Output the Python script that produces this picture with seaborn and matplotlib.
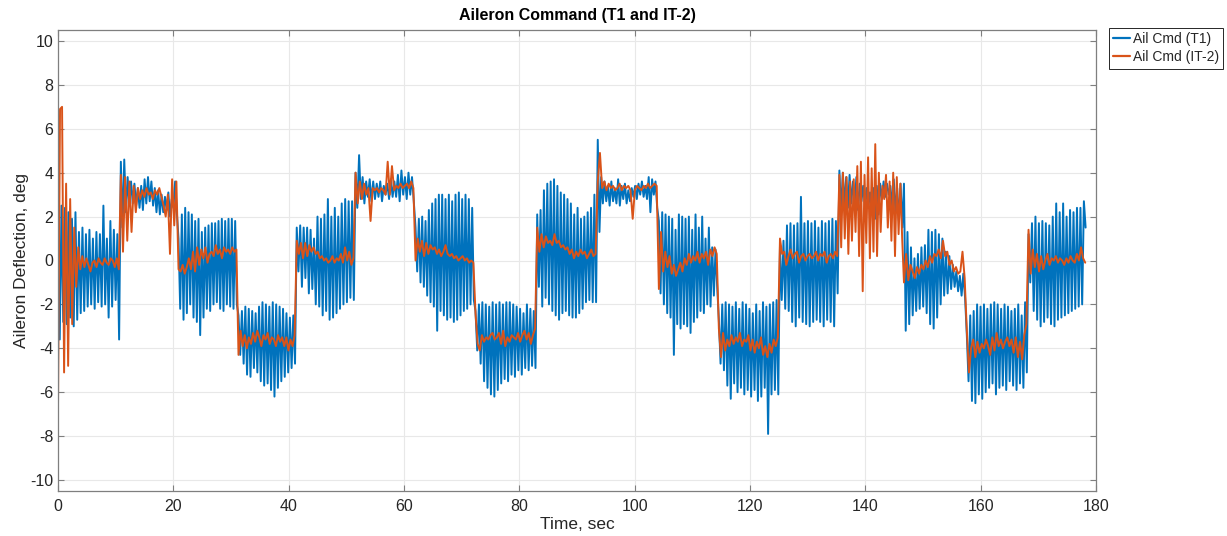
import numpy as np
import pandas as pd
import matplotlib
matplotlib.use("Agg")
import matplotlib.pyplot as plt
from matplotlib.lines import Line2D
import seaborn as sns

# ---------------- data ----------------
seg_edges = [0, 10.9, 20.9, 31.3, 41.4, 51.6, 62.0, 72.4, 83.1, 93.6,
             104.2, 114.6, 125.2, 135.5, 146.7, 157.6, 168.3, 178.5]

# Ail Cmd (T1): oscillation peaks and troughs per segment
t1_peaks = [
    [0.3, 2.5, 2.4, 2.2, 1.9, 2.2, 1.3, 1.5, 1.2, 1.4, 1.0, 1.3, 1.2, 2.5, 1.0, 1.8, 1.4, 1.2],
    [4.5, 4.6, 3.8, 3.6, 3.5, 3.3, 3.4, 3.7, 3.8, 3.6, 3.3, 3.2, 3.0, 2.9, 3.1, 2.8, 3.6],
    [1.0, 2.1, 2.4, 2.2, 2.1, 1.8, 1.9, 1.3, 1.5, 1.6, 1.7, 1.7, 1.8, 1.9, 1.8, 1.9, 1.9, 1.8],
    [-2.5, -2.3, -2.1, -2.2, -2.3, -2.4, -2.1, -1.9, -2.0, -2.1, -1.9, -2.0, -2.1, -2.2, -2.4, -2.6, -2.5],
    [1.5, 1.6, 1.5, 1.5, 1.4, 1.0, 2.0, 1.9, 2.1, 2.8, 2.0, 2.4, 2.0, 2.6, 2.8, 2.7, 2.7],
    [4.0, 4.8, 3.8, 3.6, 3.7, 3.6, 3.5, 3.6, 3.4, 3.5, 3.7, 3.6, 3.9, 4.1, 3.8, 4.0, 3.8],
    [1.5, 1.9, 2.0, 1.8, 2.3, 2.6, 2.8, 3.0, 3.0, 2.8, 3.0, 2.7, 3.0, 3.1, 2.8, 3.0, 2.8, 2.4],
    [-2.3, -2.0, -1.9, -2.0, -2.1, -1.9, -2.0, -1.9, -2.0, -1.9, -1.9, -2.0, -2.1, -2.2, -2.4, -2.0, -2.2, -2.3],
    [2.1, 2.3, 3.2, 3.5, 3.6, 3.7, 3.4, 3.1, 3.0, 2.8, 2.6, 2.1, 2.4, 1.9, 2.0, 2.2, 2.4, 3.0],
    [5.5, 3.8, 3.6, 3.4, 3.6, 3.3, 3.7, 3.4, 3.5, 3.2, 3.3, 3.4, 3.5, 3.6, 3.4, 3.8, 3.7, 3.6],
    [1.8, 2.2, 2.1, 2.0, 1.9, 1.4, 2.1, 2.0, 1.9, 2.0, 1.4, 2.1, 1.5, 2.0, 1.0, 1.5, 0.6, 0.5],
    [-2.7, -2.0, -1.9, -2.0, -2.1, -1.9, -2.2, -1.9, -2.0, -2.2, -2.4, -2.0, -2.3, -1.9, -2.1, -2.0, -1.9, -1.8],
    [0.7, 0.9, 1.6, 1.7, 1.6, 1.7, 2.9, 1.7, 1.8, 1.7, 1.8, 1.5, 1.8, 1.7, 1.8, 1.9, 1.8],
    [4.1, 4.0, 3.8, 3.9, 3.6, 3.8, 3.5, 3.4, 3.3, 3.1, 3.3, 3.4, 3.5, 3.6, 3.5, 3.4, 3.7, 3.3, 3.5],
    [3.5, 1.3, 0.6, 0.1, 0.3, 0.6, 0.7, 1.4, 1.3, 1.4, 1.2, 1.0, 0.4, 0.2, -0.2, -0.5, -0.7, -0.6],
    [-3.4, -2.5, -2.3, -2.0, -2.1, -2.0, -2.2, -2.0, -1.9, -2.0, -2.2, -2.0, -2.1, -2.3, -2.2, -2.0, -2.5, -1.9],
    [1.2, 1.7, 2.0, 1.7, 1.8, 1.7, 1.6, 2.0, 2.6, 2.2, 2.6, 2.0, 2.3, 2.2, 2.4, 2.4, 2.7],
]
t1_troughs = [
    [-3.6, -2.8, -2.9, -2.6, -3.0, -2.7, -2.4, -2.3, -2.1, -2.0, -2.2, -1.9, -2.1, -2.0, -2.6, -2.1, -1.8, -3.6],
    [1.5, 2.2, 2.5, 2.6, 2.5, 2.4, 2.3, 2.6, 2.7, 2.5, 2.2, 2.1, 2.2, 2.3, 2.0, 2.4, 2.2],
    [-2.2, -2.7, -2.4, -2.0, -2.6, -2.8, -3.4, -2.6, -2.2, -2.3, -2.0, -1.9, -2.2, -2.3, -2.0, -2.1, -2.2, -2.0],
    [-4.3, -4.7, -5.2, -5.3, -4.9, -5.1, -5.5, -5.7, -5.6, -5.9, -6.2, -5.8, -5.5, -5.3, -5.1, -4.9, -4.7],
    [-0.5, -1.2, -0.8, -1.5, -1.3, -2.0, -2.1, -2.5, -2.3, -2.7, -2.6, -2.4, -2.2, -2.0, -1.9, -1.7, -1.8],
    [2.4, 2.8, 2.6, 2.9, 2.7, 2.8, 2.9, 2.7, 3.0, 2.8, 2.9, 2.9, 2.7, 3.0, 2.8, 3.0, 2.7],
    [-0.5, -1.0, -1.2, -1.6, -1.9, -2.1, -3.2, -2.3, -2.5, -2.7, -2.6, -2.8, -2.7, -2.5, -2.3, -2.2, -2.0, -1.8],
    [-4.1, -4.7, -5.5, -5.8, -6.1, -6.2, -5.9, -5.6, -5.4, -5.5, -5.2, -5.3, -5.0, -5.2, -4.9, -5.0, -4.8, -4.9],
    [-1.2, -2.1, -1.7, -2.0, -2.3, -2.5, -2.7, -2.4, -2.3, -2.5, -2.6, -2.6, -2.4, -2.2, -1.9, -1.8, -1.9, -1.9],
    [1.3, 2.6, 2.7, 2.5, 2.7, 2.6, 2.5, 2.8, 2.6, 2.7, 2.9, 2.8, 3.0, 2.9, 2.8, 2.2, 3.0, 2.4],
    [-1.5, -2.0, -2.4, -2.6, -4.3, -2.9, -3.1, -2.9, -3.0, -3.3, -2.8, -2.6, -2.3, -2.4, -2.0, -2.1, -1.6, -1.2],
    [-4.7, -5.0, -5.7, -6.3, -5.6, -6.0, -5.8, -6.1, -5.9, -6.2, -5.9, -6.4, -6.2, -5.8, -7.9, -6.1, -5.9, -6.1],
    [-1.8, -2.2, -2.3, -2.8, -3.0, -2.6, -2.8, -2.9, -3.0, -2.8, -2.7, -2.8, -3.0, -2.7, -2.8, -3.0, -1.5],
    [2.2, 2.5, 2.4, 2.6, 2.5, 2.3, 2.7, 2.5, 2.4, 2.3, 1.9, 2.1, 2.8, 2.9, 3.0, 2.5, 2.2, 1.8, 1.5],
    [-3.2, -2.9, -2.5, -2.3, -2.2, -2.1, -2.4, -2.9, -3.1, -2.6, -2.0, -1.6, -1.5, -1.3, -1.2, -1.4, -1.6, -1.7],
    [-5.5, -6.4, -6.5, -6.1, -6.3, -6.0, -5.8, -5.6, -6.1, -5.8, -5.7, -5.9, -5.5, -5.7, -5.9, -5.6, -5.8, -5.1],
    [-1.0, -2.3, -2.7, -3.0, -2.8, -2.6, -2.9, -3.0, -2.7, -2.6, -2.5, -2.4, -2.3, -2.2, -2.1, -2.0, 1.5],
]

# Ail Cmd (IT-2): samples per segment
it2_values = [
    [-6.7, 6.9, 7.0, -5.1, 3.5, -4.8, 2.8, -2.9, 1.5, -1.2, 0.6, -0.4, 0.2, -0.3, 0.1, -0.2,
     -0.5, -0.1, 0.0, -0.3, 0.1, -0.1, -0.2, 0.1, -0.1, -0.2, 0.1, 0.0, -0.3, 0.1, -0.4],
    [3.9, 0.4, 3.8, 0.9, 3.6, 1.3, 3.4, 2.2, 3.3, 2.8, 3.2, 2.9, 3.3, 3.0, 3.1, 2.8, 3.2, 3.0,
     3.3, 2.9, 2.5, 2.0, 3.0, 0.3, 3.7, 1.6, 3.6],
    [-0.4, -0.5, -0.2, -0.6, -0.3, 0.1, -0.4, 0.4, -0.5, 0.6, -0.2, 0.5, 0.1, 0.6, -0.1, 0.3,
     0.4, 0.2, 0.7, 0.3, 0.5, 0.1, 0.6, 0.4, 0.5, 0.3, 0.6, 0.4, 0.5],
    [-4.3, -3.2, -3.9, -3.4, -4.0, -3.5, -3.8, -3.3, -3.7, -3.2, -3.5, -3.9, -3.4, -3.6, -3.3,
     -3.8, -3.5, -3.6, -3.9, -3.4, -3.7, -3.5, -3.9, -3.5, -4.1, -3.6, -3.9, -3.4],
    [0.9, 0.3, 0.8, 0.1, 0.8, 0.2, 0.7, 0.4, 0.6, 0.3, 0.4, 0.1, 0.2, 0.0, 0.1, -0.1, 0.0, 0.2,
     -0.1, 0.1, 0.0, 0.3, -0.1, 0.6, 0.0, 0.4, -0.2, 0.1],
    [4.0, 2.6, 3.6, 2.8, 3.5, 3.0, 3.3, 1.8, 3.3, 3.2, 3.3, 3.1, 3.3, 3.2, 3.0, 4.5, 3.0, 4.3,
     3.2, 3.4, 3.3, 3.5, 3.3, 3.4, 3.5, 3.3, 3.6, 3.3],
    [0.0, 1.0, 0.4, 0.9, 0.2, 0.8, 0.3, 0.7, 0.5, 0.6, 0.3, 0.5, 0.2, 0.4, 0.7, 0.3, 0.2, 0.3,
     0.1, 0.2, 0.0, 0.1, 0.2, 0.0, 0.1, -0.1, 0.0, -0.1],
    [-2.4, -3.8, -4.1, -3.4, -3.7, -3.5, -3.6, -3.4, -3.3, -3.6, -3.5, -3.3, -3.8, -3.2, -3.9,
     -3.5, -3.7, -3.4, -3.5, -3.6, -3.3, -3.7, -3.4, -3.2, -3.6, -3.3, -3.8, -3.4, -3.1],
    [1.5, 0.4, 1.2, 0.6, 1.1, 0.8, 0.9, 0.7, 1.2, 0.8, 0.9, 0.6, 0.7, 0.5, 0.6, 0.3, 0.5, 0.1,
     0.4, 0.2, 0.5, 0.3, 0.4, 0.1, 0.3, 0.5, 0.2, 0.3],
    [3.6, 4.9, 3.3, 3.6, 3.2, 3.5, 3.3, 3.4, 3.2, 3.3, 3.5, 3.2, 3.4, 3.3, 3.4, 3.2, 1.9, 3.2,
     3.4, 3.3, 3.2, 3.4, 3.3, 3.5, 3.3, 3.4, 3.5, 3.4],
    [-1.3, 1.3, -0.5, 0.4, -0.3, 0.2, -0.6, -0.2, -0.7, -0.4, -0.1, -0.5, 0.1, -0.2, 0.3, -0.1,
     0.2, 0.0, 0.4, -0.1, 0.3, 0.1, 0.4, -0.2, 0.5, 0.2, 0.6, 0.3],
    [-3.1, -4.4, -3.3, -4.1, -3.6, -3.9, -3.4, -3.8, -3.5, -3.7, -3.3, -3.9, -3.6, -3.7, -3.4,
     -4.1, -3.6, -4.2, -3.7, -4.0, -3.5, -4.3, -3.9, -4.4, -3.8, -4.2, -3.6, -3.9, -3.5],
    [1.0, 0.3, 0.4, -0.2, 0.2, 0.5, 0.1, 0.3, 0.4, -0.1, 0.2, 0.3, 0.0, 0.2, 0.3, 0.1, 0.2, 0.4,
     0.0, 0.3, 0.2, 0.4, -0.1, 0.2, 0.3, 0.1, 0.4, 0.2],
    [3.9, 0.6, 4.0, 1.0, 3.8, 0.3, 3.6, 0.9, 3.7, 1.3, 4.3, 0.2, 4.5, -1.4, 3.9, 0.8, 4.7, 0.1,
     4.2, 0.4, 5.3, 0.2, 4.0, 1.3, 3.4, 2.8, 3.9, 1.5, 3.6, 0.9, 4.0, 0.2, 3.8, 1.2, 3.5, 1.0],
    [-1.0, 0.3, -0.9, -0.2, -0.5, -0.8, -0.3, -0.6, -0.2, -0.4, 0.0, -0.3, 0.2, -0.1, 0.3, 0.2,
     0.5, 0.1, 0.9, 0.2, 0.4, -0.2, 0.0, -0.5, -0.3, -0.6, -0.5, 0.4, -0.8],
    [-3.2, -5.1, -4.0, -3.6, -4.4, -3.7, -4.2, -3.8, -4.0, -3.6, -3.9, -4.3, -3.5, -4.1, -3.3,
     -3.9, -3.6, -4.0, -3.7, -3.5, -3.9, -3.6, -4.2, -3.5, -4.4, -3.7, -4.5, -3.4, -2.9],
    [1.4, -0.6, 0.5, -0.3, 0.3, -0.5, 0.2, -0.4, 0.0, 0.3, -0.2, 0.1, 0.0, 0.2, -0.1, 0.1, 0.0,
     -0.2, 0.1, -0.1, 0.2, 0.0, -0.1, 0.3, 0.0, 0.6, 0.1, -0.1],
]

series_names = ["Ail Cmd (T1)", "Ail Cmd (IT-2)"]
series_colors = ["#0072BD", "#D95319"]
x_ticks = list(range(0, 181, 20))
y_ticks = list(range(-10, 11, 2))

# ---------------- assemble long table ----------------
rows = []
for k in range(len(seg_edges) - 1):
    a, b = seg_edges[k], seg_edges[k + 1]
    pk, tr = t1_peaks[k], t1_troughs[k]
    seq = []
    for p, q in zip(pk, tr):
        seq.extend([p, q])
    n = len(seq)
    for i, v in enumerate(seq):
        rows.append((series_names[0], a + i * (b - a) / n, v))
    ov = it2_values[k]
    m = len(ov)
    for i, v in enumerate(ov):
        rows.append((series_names[1], a + i * (b - a) / m, v))
df = pd.DataFrame(rows, columns=["series", "t", "v"])

# ---------------- style ----------------
sns.set_style("white")
plt.rcParams["font.family"] = ["Liberation Sans", "DejaVu Sans"]
plt.rcParams["axes.unicode_minus"] = False

fig = plt.figure(figsize=(12.27, 5.36), dpi=100)
ax = fig.add_axes([58 / 1227, 1 - 491 / 536, (1096 - 58) / 1227, (491 - 30) / 536])

for name, col in zip(series_names, series_colors):
    sns.lineplot(data=df[df["series"] == name], x="t", y="v", color=col,
                 estimator=None, sort=False, lw=1.4, ax=ax, legend=False)

ax.set_xlim(0, 180)
ax.set_ylim(-10.5, 10.5)
ax.set_xticks(x_ticks)
ax.set_yticks(y_ticks)
ax.grid(True, color="#e8e8e8", lw=0.8)
ax.set_axisbelow(True)
for s in ax.spines.values():
    s.set_color("#7f7f7f")
    s.set_linewidth(0.9)
ax.tick_params(direction="in", length=4, width=0.8, color="#7f7f7f",
               labelsize=11.5, labelcolor="#262626", top=True, right=True,
               bottom=True, left=True)
ax.tick_params(axis="x", pad=6)
ax.set_xlabel("Time, sec", fontsize=12.5, color="#262626", labelpad=2)
ax.set_ylabel("Aileron Deflection, deg", fontsize=12.5, color="#262626", labelpad=1)
ax.set_title("Aileron Command (T1 and IT-2)", fontsize=11.5, fontweight="bold",
             color="#000000", pad=7)

handles = [Line2D([0], [0], color=c, lw=1.6) for c in series_colors]
leg = fig.legend(handles, series_names, loc="upper left",
                 bbox_to_anchor=(1109 / 1227, 1 - 28 / 536),
                 bbox_transform=fig.transFigure, fontsize=10, frameon=True,
                 fancybox=False, framealpha=1, edgecolor="#262626",
                 handlelength=1.2, handletextpad=0.2, borderpad=0.3,
                 labelspacing=0.3, borderaxespad=0)
leg.get_frame().set_linewidth(0.7)

fig.savefig("out.png", dpi=100)
